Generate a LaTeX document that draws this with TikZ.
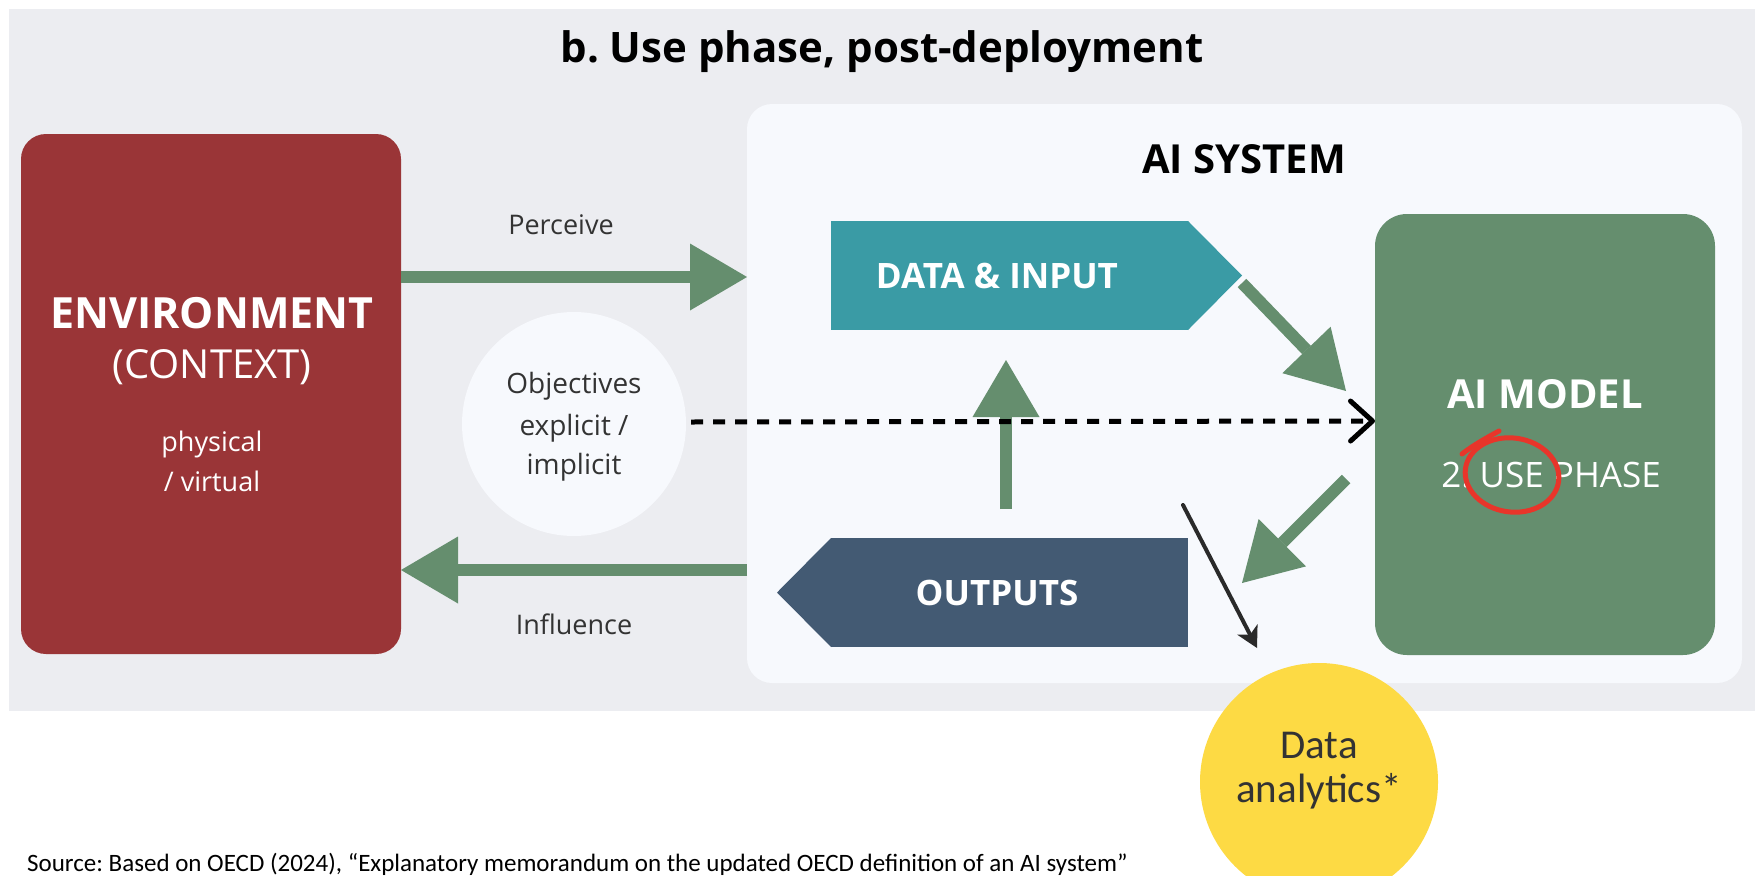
\documentclass[tikz,border=0pt]{standalone}
\usepackage{fontspec}
\setmainfont{Open Sans}
\newfontfamily\calibri{Carlito}
\usetikzlibrary{arrows.meta,calc}

\definecolor{bggray}{HTML}{ECEDF1}
\definecolor{panelc}{HTML}{F7F9FD}
\definecolor{envred}{HTML}{9A3537}
\definecolor{tealc}{HTML}{3A9BA5}
\definecolor{navyc}{HTML}{435A73}
\definecolor{greenc}{HTML}{658E6E}
\definecolor{yellowc}{HTML}{FDDA44}
\definecolor{textgray}{HTML}{333333}
\definecolor{penred}{HTML}{E8352A}
\definecolor{inkc}{HTML}{2A2A2A}

\newcommand{\fs}[1]{\fontsize{#1}{#1}\selectfont}
\frenchspacing

\begin{document}
\begin{tikzpicture}[x=1pt,y=-1pt,
  box/.style={inner sep=0pt, outer sep=0pt},
  lbl/.style={anchor=base, inner sep=0pt, text=textgray},
  garrow/.style={draw=greenc, line width=12pt,
    -{Triangle[length=57pt,width=67pt,line width=0pt]}},
  thinarrow/.style={draw=inkc, line width=4pt, line cap=round,
    -{Stealth[length=21pt,width=23pt,inset=6pt,line width=0pt]}},
  dotarrow/.style={draw=black, line width=5pt, dash pattern=on 12pt off 10pt,
    -{Straight Barb[length=22pt,width=40pt,round]}}]

\clip (0,0) rectangle (1755,875);
\useasboundingbox (0,0) rectangle (1755,875);
\fill[white] (0,0) rectangle (1755,875);

% grey background and title
\fill[bggray] (9,9) rectangle (1755,711);
\node[lbl, text=black] (title) at (882,63) {\fs{42}\bfseries b. Use phase, post-deployment};

% AI system panel
\node[box, fill=panelc, rounded corners=25pt, minimum width=995pt, minimum height=579pt] (panel) at (1244.5,393.5) {};
\node[lbl, text=black] (systitle) at (1244,173) {\fs{40}\bfseries AI SYSTEM};

% environment
\node[box, fill=envred, rounded corners=25pt, minimum width=380pt, minimum height=520pt] (env) at (211,394) {};
\node[lbl, text=white] (envt1) at (212,328) {\fs{43}\bfseries ENVIRONMENT};
\node[lbl, text=white] (envt2) at (212,378) {\fs{40}(CONTEXT)};
\node[lbl, text=white] (envt3) at (212,451) {\fs{27}physical};
\node[lbl, text=white] (envt4) at (212,491) {\fs{27}/ virtual};

% objectives
\node[box, circle, fill=panelc, minimum size=224pt] (obj) at (574,424) {};
\node[lbl] (objt1) at (574,393.5) {\fs{28}Objectives};
\node[lbl] (objt2) at (574,435) {\fs{28}explicit /};
\node[lbl] (objt3) at (574,474) {\fs{28}implicit};

% data & input
\node[box, fill=tealc, minimum width=357pt, minimum height=109pt] (data) at (1009.5,275.5) {};
\fill[tealc] (data.north east) -- ($(data.east)+(54,0)$) -- (data.south east) -- cycle;
\node[lbl, text=white] (datat) at (997,288) {\fs{35}\bfseries DATA \& INPUT};

% outputs
\node[box, fill=navyc, minimum width=357pt, minimum height=109pt] (outputs) at (1009.5,592.5) {};
\fill[navyc] (outputs.north west) -- ($(outputs.west)+(-54,0)$) -- (outputs.south west) -- cycle;
\node[lbl, text=white] (outt) at (997,605) {\fs{35}\bfseries OUTPUTS};

% AI model
\node[box, fill=greenc, rounded corners=32pt, minimum width=340pt, minimum height=441pt] (model) at (1545,434.5) {};
\node[lbl, text=white] (modelt) at (1545,408) {\fs{40}\bfseries AI MODEL};
\node[lbl, text=white] (uset) at (1551,487) {\fs{35}2. USE PHASE};

% hand-drawn mark around USE
\draw[penred, line width=5pt, line cap=round] (1499,431) .. controls (1486,438) and (1472,446) .. (1462,454);
\draw[penred, line width=5pt, rotate around={-8:(1512,475)}] (1512,475) ellipse [x radius=47, y radius=37];

% data analytics
\node[box, circle, fill=yellowc, minimum size=238pt] (analytics) at (1319,782) {};
\node[lbl] (anat1) at (1319,758) {\calibri\fs{41}Data};
\node[lbl] (anat2) at (1319,802) {\calibri\fs{41}analytics*};

% labels of the environment arrows
\node[lbl] (perc) at (561,234.5) {\fs{27}Perceive};
\node[lbl] (infl) at (574,634) {\fs{27}Influence};

% connectors
\draw[garrow] (env.east |- 0,277) -- (panel.west |- 0,277);
\draw[garrow] (panel.west |- 0,570) -- (env.east |- 0,570);
\draw[garrow] ($(data.east)+(54,7.5)$) -- ($(model.west)+(-29,-43.5)$);
\draw[garrow] ($(model.west)+(-29,44.5)$) -- ($(outputs.east)+(54,-9.5)$);
\draw[garrow] ($(outputs.north)+(-3.5,-29)$) -- ($(data.south)+(-3.5,30)$);
\draw[dotarrow] ($(obj.east)+(5,-2)$) -- ($(model.west)+(0,-13.5)$);
\draw[thinarrow] ($(outputs.north east)+(-5,-33)$) -- ($(analytics.north)+(-62,-15)$);

% source line
\node[anchor=base west, inner sep=0pt, text=black] (source) at (27,871)
  {\calibri\fs{25}Source: Based on OECD (2024), “Explanatory memorandum on the updated OECD definition of an AI system”};
\end{tikzpicture}
\end{document}
